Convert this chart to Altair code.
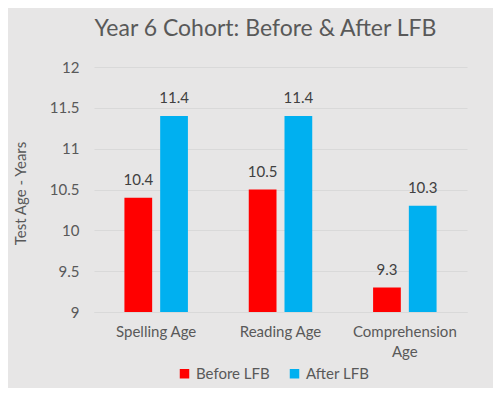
import altair as alt
import pandas as pd

categories = ["Spelling Age", "Reading Age", "Comprehension Age"]
series = ["Before LFB", "After LFB"]
before = [10.4, 10.5, 9.3]
after = [11.4, 11.4, 10.3]
colors = ["#FF0000", "#00B0F0"]
y_ticks = [9, 9.5, 10, 10.5, 11, 11.5, 12]

rows = []
for c, b, a in zip(categories, before, after):
    rows.append({"category": c, "series": series[0], "value": b})
    rows.append({"category": c, "series": series[1], "value": a})
df = pd.DataFrame(rows)

FONT = "Lato"
TXT = "#595959"

x = alt.X("category:N", sort=categories, title=None,
          scale=alt.Scale(paddingInner=0, paddingOuter=0),
          axis=alt.Axis(labelAngle=0, labelFontSize=15, labelColor=TXT, labelFont=FONT,
                        labelPadding=12, labelLineHeight=20, ticks=False,
                        domainColor="#D9D9D9", domainWidth=1,
                        labelExpr="length(datum.label) > 14 ? split(datum.label, ' ') : datum.label"))
xo = alt.XOffset("series:N", sort=series,
                 scale=alt.Scale(paddingInner=0.224, paddingOuter=0.851))
y = alt.Y("value:Q", title="Test Age - Years",
          scale=alt.Scale(domain=[9, 12], zero=False, nice=False),
          axis=alt.Axis(values=y_ticks, format="~g", labelFontSize=15, labelColor=TXT,
                        labelFont=FONT, labelPadding=15, ticks=False, domain=False,
                        gridColor="#D9D9D9", gridWidth=1,
                        titleFontSize=15, titleFont=FONT, titleColor=TXT,
                        titleFontWeight="normal", titleAngle=-90, titleX=-74, titleY=126,
                        titleAlign="center", titleBaseline="middle"))
color = alt.Color("series:N", sort=series,
                  scale=alt.Scale(domain=series, range=colors),
                  legend=alt.Legend(title=None, orient="none", direction="horizontal",
                                    legendX=83, legendY=299, symbolType="square",
                                    symbolSize=90, symbolStrokeWidth=0,
                                    labelFontSize=15, labelFont=FONT, labelColor=TXT,
                                    labelOffset=4, columnPadding=17))

base = alt.Chart(df).encode(x=x, xOffset=xo)
bars = base.mark_bar().encode(y=y, y2=alt.datum(9), color=color)
labels = base.mark_text(baseline="alphabetic", dy=-13, fontSize=15, font=FONT,
                        color="#404040").encode(
    y=alt.Y("value:Q"), text=alt.Text("value:Q", format=".1f"))

chart = alt.layer(bars, labels).properties(
    width=373, height=245,
    autosize=alt.AutoSizeParams(type="none"),
    padding={"left": 86, "top": 59, "right": 26, "bottom": 76},
    background="#E7E6E6",
    title=alt.TitleParams("Year 6 Cohort: Before & After LFB", fontSize=23, font=FONT,
                          color=TXT, fontWeight="normal", anchor="middle", dx=-15,
                          offset=19),
).configure_view(stroke=None)

chart.save("out.html", embed_options={"renderer": "svg", "actions": False})
